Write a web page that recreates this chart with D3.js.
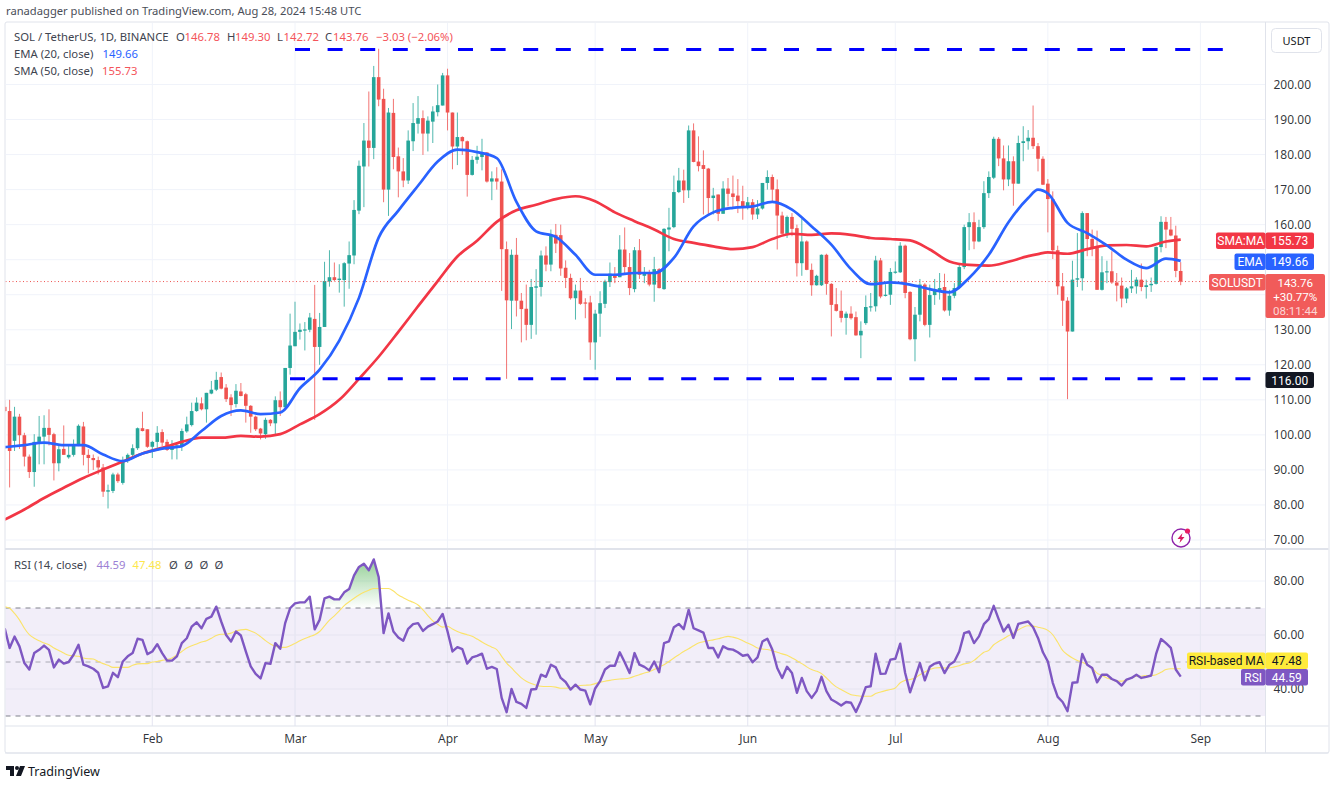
<!DOCTYPE html>
<html>
<head>
<meta charset="utf-8">
<script src="https://cdn.jsdelivr.net/npm/d3@7"></script>
<style>
html,body{margin:0;padding:0;background:#fff;overflow:hidden}
svg{display:block}
text{font-family:"Noto Sans",Roboto,sans-serif}
</style>
</head>
<body>
<svg id="c" width="1336" height="785"></svg>
<script>
// ---- data -----------------------------------------------------------------
const firstDay = "2024-01-02";
const opens = [
108,106.8,98.3,105.2,99.9,93.8,89.4,98,99.5,102,
100.2,91.9,96,93.6,94.3,97.3,102.4,94.3,93.4,92.8,
90.7,83.8,84,88.7,86.3,92.5,94.3,96.2,101.9,101.6,
96.6,98,100.8,98,95.7,96.5,96.8,101,102.8,106.8,
109,107.3,111.8,112.9,116.5,113.5,110.7,108.8,112.4,111.6,
108.3,105.2,101.8,100.2,104.3,103.3,109.9,107.9,119.1,125.3,
129.4,130,130,133.1,125.1,130.8,143.8,145,144.2,144.2,
148.9,151.2,164,176.6,184,181.9,202.1,195.9,170,191.9,
179.5,175.2,172.6,183.8,188.8,190.4,186,189.4,192.1,194,
202.6,192,182.3,185,183.8,174.2,178.5,179.3,180.6,172.3,
173.2,172.3,153,138.3,151.4,138.3,136,131.4,142,142.2,
151.2,148.6,157.1,157,147.7,144.8,139,141.2,137.8,137.8,
126.4,134.6,137.4,143.6,145.7,145,152.9,147.9,141.6,152.7,
145.4,146,142.9,147.3,141.6,158.6,159.3,169.3,172.6,169.8,
186.9,178,177,176,167.6,168.6,163.1,170.3,168.9,168.3,
166.7,165.2,166.4,162.9,164.6,171.9,173.6,170.1,162.6,157.4,
162.2,159,149,155.2,147.1,142.7,142.7,151.4,143.1,137.3,
135.4,133.4,134.6,133.6,128.4,131.9,136.5,136.7,149.8,139.8,
140,146.3,146.4,154,140.8,127.3,134.3,142.9,131.4,139.9,
141.2,142.2,135.5,139.7,141.9,147.9,159.3,160.7,155.2,159.3,
169,173.4,184.5,178.9,172.9,178.1,171.7,183.3,183.8,184.8,
182.4,178.8,171.7,167.3,152.7,142.4,138.3,129.5,144.3,144.7,
163.3,155.9,153.6,141.4,146.4,146.7,143.5,142.6,138.9,141.8,
142.4,144.3,142.2,142.7,143.1,153.6,160.8,158.6,156.9,146.78];
const highs = [
110,110,108,106,100.6,94.4,100.2,105.4,105.6,107.3,
100.6,97.3,102.7,97,98.7,103,103.7,95.9,94.4,93.8,
91.7,85.8,89.2,89.2,93.8,94.7,97.3,102.1,106.6,101.6,
98.3,102.5,101.6,98.7,98.5,97.3,101.8,105.2,109.2,110.7,
110.7,112,115.4,118,117.8,114.5,111.6,114.5,114.8,112,
108.5,105.5,102,104.9,104.5,111,112.4,119.1,134.6,138,
131.8,132.2,134.8,142.8,134.8,149.4,152.7,149.2,148.7,149.3,
155.2,167,178.3,189,198,205.3,210.2,198.8,193.3,195.9,
182,179,186.9,194.7,196.7,192.6,190.9,193.8,200,203.3,
204.5,192,192,185.2,184,179.6,182.5,184.5,180.7,175.2,
176.4,175.8,155.2,152.9,156.2,140.5,142.9,144.5,147.3,152.6,
153.8,158.6,160.2,160,149.8,146,142.9,144.8,139,139.7,
135.7,141,144.3,149.2,147.9,157,159.2,151.9,153.6,155.9,
147.9,147.1,150.8,147.6,159,164.8,174,176.2,175.7,188.3,
188.9,185.2,181.2,176.2,170.5,168.6,172.4,173.3,174,173,
171.1,167.9,167.3,167,171.9,175.5,174.3,172.9,163.7,162.6,
163.3,160,161.6,155.5,148.9,145.7,151.5,151.7,143.3,141.9,
141.2,135.2,136.7,135.2,132.4,139.8,140.5,151.1,150.5,143,
147.6,149.5,155,154.3,141,136.5,144.5,143.3,142.9,144.5,
146.2,146,141.4,143.3,148.6,160,163.3,163.5,161.4,172.4,
175.2,185.1,185,182.6,182.6,179.5,185.4,188.1,187,194,
183.3,179.5,173,169.5,154,146.2,139.3,149.7,157.6,163.8,
163.3,158.6,158.3,151,149.7,152.4,146.2,144.9,142.2,147.1,
145,148.9,144.3,144.9,153.8,162.4,162.2,162.2,159.7,149.3];
const lows = [
106.5,85,95.4,96,91,87.7,85.2,91.6,91.6,97,
87,89.6,94.3,93.2,93.8,96.8,91.3,89,90,88.7,
82.3,79,83.4,86.3,85.8,92,93.5,95.7,101,96.3,
93.4,96.3,96.8,95.4,93,93,95.4,100.6,102.4,106.6,
107,103.5,111.6,112.5,113,109.4,105.4,107.8,111,103.5,
100.6,101.1,98.7,98.9,102.5,100.2,105.4,107.6,117.2,125.3,
127.2,124.1,129.3,104.3,120,130.8,142.3,143.9,140.6,136.6,
141.7,148.7,163,165,176.6,178.7,193.8,166.4,162.5,175.8,
167.8,170.7,171.6,181,186,179.9,180.9,183.3,190.9,194,
186.9,175.8,177,179.9,168,174,177.4,175.5,172,167,
170,141.1,116,130.2,133.8,126.4,127,127.4,128.6,139.5,
146.7,146.7,151.9,145.4,141.9,138.6,132.9,137.1,133.3,121.4,
118.6,128,136.2,142.2,143.3,145,146.2,139.9,140.7,144.5,
143.3,142.4,138,141.8,141.4,152.4,159,169,166.2,167.6,
177.8,175.2,162.9,162.6,162.9,161,163.1,165.2,164.9,163.3,
161.4,164.3,161.4,161.6,164.3,170,166.2,152.9,157.1,156.2,
156.7,145.2,145.4,147,139.7,142.6,142.5,140,128.1,135.2,
132.1,128.6,132.9,128.3,121.9,131.4,135.2,135.2,139,139.5,
137.1,146,146.2,139,127,121,132.4,131,127.8,137.1,
138.6,135.2,134,139,141.6,147.3,152.7,153,155,158.8,
167.6,173,176.7,169.8,171,165.4,171.7,178.1,181.4,181.6,
175.2,171.3,157.8,150.2,140,131.1,110.2,129.5,142.2,141.2,
151,151,141.4,141.2,143.3,143.1,138.1,136.4,137.6,140.5,
140.3,141,138.9,140.8,142.9,152.1,153.3,156.7,145,142.72];
const closes = [
106.8,95.4,105.2,99.9,93.8,89.4,98,99.5,102,100,
91.9,95.9,94.3,94.3,97.3,102.6,94.3,93.4,92.8,90.7,
83.8,84.2,88.7,86.8,92.8,94.3,96.2,101.9,101.1,96.6,
98,100.6,97.8,95.7,96.8,97,101.1,103,106.8,109.2,
107.3,112,112.9,115.7,113.2,110.2,108.5,112.6,111.1,108.3,
105.2,101.6,100.4,104.3,103.3,109.9,107.9,119.1,125.5,129.4,
130,130.1,133.5,125.1,130.8,143.9,145,144.2,144.6,149,
151.3,164.2,176.8,184,181.9,202.1,195.7,170,192,179.3,
175.2,172.6,184,189,190.4,186,189.7,192.3,194.1,202.6,
192,182.3,185,183.8,174.2,178.5,179.4,180.4,172.3,173.2,
172.3,153,138.4,151.4,138.3,135.9,131.4,142.2,142.4,151.2,
148.6,157.1,154.6,147.5,144.8,139,141.2,137.4,137.6,126.4,
134.6,137.6,143.8,146,144.8,152.9,147.9,141.9,152.7,145.7,
146.2,142.9,147.3,141.9,158.8,159.2,169.3,172.6,169.8,186.9,
177.9,176.7,175.9,167.6,168.3,163.1,170.3,168.8,167.9,166.7,
165.2,166.4,162.9,164.6,171.9,173.6,170,162.6,157.4,162.2,
158.8,149,155.2,147.1,142.7,145.4,151.4,143.1,137.1,135.4,
133.4,134.6,133.3,128.4,129.7,136.5,136.7,149.8,139.5,140,
146.5,146.6,154,140.5,127.3,134.3,142.9,131.4,139.9,141.2,
141.9,135.5,139.7,141.9,147.9,159.3,160.7,155.2,159.3,169,
173.6,184.5,178.9,172.9,178.1,171.7,183.3,183.8,184.8,182.4,
178.8,171.4,167.3,152.7,142.4,138.3,129.5,144.3,144.7,163.3,
155.9,153.6,141.4,146.4,146.7,143.5,142.6,138.9,141.8,142.4,
144.3,142.2,142.7,143.1,153.6,160.8,158.6,156.9,146.8,143.76];
// moving averages, read at every 4th session, plus the turning point and the last session
const maDays = [0,4,8,12,16,20,24,28,32,36,40,44,48,52,56,60,64,68,72,76,80,84,88,92,96,100,104,108,112,116,120,124,128,132,136,140,144,148,152,156,160,164,168,172,176,180,184,188,192,196,200,204,208,210,212,216,220,224,228,232,236,239];
const ema20 = [96.5,97.1,97.8,97.1,97.1,94.4,92.5,94.7,96.1,96.8,101.1,105.4,107,105.9,106.4,113.3,118.6,126.9,139.1,156.3,164,171.1,178,181.4,180.7,179,166.5,158.1,156.5,151.4,145.7,145.7,146.2,146.2,150.5,159.5,163.5,164.8,165.2,166.5,164.3,159.5,154.3,147.3,143,143.5,142.9,141.6,140.7,144.8,151.4,160.7,167.6,170,168.9,160.5,157.6,154.1,150,147.6,150.3,149.66];
const sma50 = [75.8,78.7,82,84.9,87.7,90.1,92.4,94.7,96.3,98,99.2,99.2,99.7,99.5,100.2,103,105.9,110,116,122.3,129.4,136.7,143.9,150.9,155.4,160.8,164.1,165.7,167.3,168.1,166.7,163.5,161,158.6,155.9,154.8,153.8,153,153.6,155.9,157.4,157.1,157.5,157.1,156.2,155.9,155.5,152.9,149.5,148.5,148.3,149.4,151,151.6,152.1,151.7,153,154.1,154.2,153.8,155.2,155.73];
const rsiValues = [
62.5,55.2,59.4,55.8,49.6,47.2,53.3,54.5,56.1,54.5,
48,50.9,49.4,50,52.7,56.4,49,48.4,47.5,46,
40.4,41,46,44.4,50.2,52.1,53.3,58.6,58.2,52.9,
53.9,56.6,53.3,50.5,50.5,52.1,57,58.8,63.1,64.7,
62.5,66,66.8,70.5,65,60,57.6,61.3,59.8,53.9,
48.4,45.6,43.9,49.6,49.3,57,54.9,64.4,69.9,71.7,
72.1,72.1,74.2,62.1,65.6,73.6,74.2,73.2,73.2,75.8,
77,82.1,85.2,86.4,84,88,81.5,60.7,68,61.3,
59.1,57.9,62.3,64,64.4,61.5,63.1,64,65,67.8,
61.3,53.9,55.5,54.8,49.4,51.7,52.3,53.1,47.5,48.2,
47.4,36.7,31.4,40,35.2,34.5,33,39.8,40,45.3,
44.5,49,48,44.1,42.6,39.8,41.6,39.8,39.4,34.3,
40.2,42.9,47.2,48.6,48.6,53.6,49.9,45.9,53.3,49,
48.2,46.9,50.2,46.2,57,57.6,62.9,64.1,62.2,69.3,
62.5,61.7,60.9,55.2,55.2,51.7,55.8,54.8,54.6,53.6,
52.3,52.7,49.9,51.7,57.6,58.6,54.6,47.8,44.1,48.2,
45.9,38.6,44.1,39.2,36.7,39.2,44.5,39.2,36.1,35.1,
33.9,35.2,34.9,31.5,35.5,40.7,41,53.1,45.6,45.7,
50.9,51.2,56.8,45.9,38.8,44.1,49.6,43.2,48.2,49.4,
49.9,45.9,49,50.2,53.9,60.7,61.3,57,59.5,64,
65.9,70.8,65.9,61.3,63.8,58.9,64.1,64.6,65,62.9,
58.9,53.6,50.2,42.3,37.1,35.2,31.8,42.3,42.5,53,
49,47.8,42.5,45.3,45.3,43.7,42.9,41.3,43.5,44.1,
45.3,44.1,44.5,45,53,58.5,57,55.2,47.2,44.59];
const rsiMa = [
70.5,69.9,68,65.6,62.5,60.1,58.8,57.9,57,56.4,
55.2,54.3,53.3,52.5,52.3,52.1,51.5,51.2,51.1,50.2,
49.4,48.8,48,48,48,48,48.8,49.3,49.4,49.4,
50,50.2,50.6,50.9,51.5,52.7,53.9,55.2,56,56.7,
57.4,57.9,58.8,59.8,60.3,60.3,60.7,61.5,61.9,62.1,
61.5,60.7,59.4,57.9,56.7,55.8,55.4,55.4,56,56.9,
57.9,58.7,59.4,60.1,61.3,63.4,65.5,67.1,68.9,70.9,
72.3,73.6,74.8,75.8,76.6,77.2,77.2,77.2,77.2,76.3,
74.8,73.8,72.9,72.1,71.1,69.3,67.2,65.2,64,62.9,
63.2,62.2,61.3,60.6,60.1,59.5,58.5,57.4,56.4,55.5,
54.6,52.1,49.6,47.8,45.9,44.1,42.9,42,41.4,41,
40.9,40.9,40.7,40.3,40.3,40.4,40.9,41.3,41.4,41.5,
42,42.5,42.9,43.2,43.5,43.7,43.8,44.1,44.7,45.3,
45.9,46.4,47.2,48.2,49,50.2,51.5,52.7,53.9,54.9,
56,57,57.5,57.9,58.2,58.6,59.1,59.5,59.2,58.7,
57.9,57,56.2,55.2,54.8,54.6,54.2,53.6,53,52.5,
51.5,50.5,49.4,48.2,47.2,46.6,45.7,44.1,42.3,40.8,
39.8,38.8,37.9,37.6,37.3,37.3,37.3,38.3,38.9,39.4,
39.8,40.4,42.3,43.2,43.5,44.1,45.3,46.3,47.2,47.8,
47.9,47.8,47.8,48.2,48.6,49.3,49.6,50.6,52.1,53.6,
54.3,56.4,57.6,58.6,59.7,60.7,61.9,62.9,63.4,63.3,
62.9,62.5,61.7,60.1,57.3,54.3,52.7,51.5,50.6,49.9,
49,47.8,45.9,45,44.1,43.5,42.9,42.9,43.5,44.1,
44.7,44.7,45,45,45.3,46.2,47.2,47.5,47.5,47.48];
const priceTicks = [70,80,90,100,110,120,130,140,150,160,170,180,190,200];
const priceLabels = [70,80,90,100,110,120,130,160,170,180,190,200]; // 140 and 150 sit behind the price tags
const rsiTicks = [40,60,80];
const rsiBands = [70,50,30];
const monthDays = ["2024-02-01","2024-03-01","2024-04-01","2024-05-01","2024-06-01","2024-07-01","2024-08-01","2024-09-01"];
const monthNames = ["Feb","Mar","Apr","May","Jun","Jul","Aug","Sep"];
const supportResistance = [116, 210];

// ---- layout ---------------------------------------------------------------
const L=5.5, R=1265.5, T=23, P=549, B=726, F=753, OUT=1328.5;
const UP="#26a69a", DOWN="#ef5350", EMA="#2962ff", SMA="#f23645", PUR="#7e57c2", YEL="#ffeb3b";
const GRID="#f0f3fa", BORDER="#e0e3eb", TXT="#131722";
const svg=d3.select("#c");
const parse=d3.utcParse("%Y-%m-%d");
const day0=parse(firstDay);
const dates=closes.map((_,i)=>d3.utcDay.offset(day0,i));
const x=d3.scaleUtc().domain([dates[0],dates[dates.length-1]]).range([4.7,1180.7]);
const y=d3.scaleLinear().domain([70,200]).range([540,84.5]);
const ry=d3.scaleLinear().domain([30,80]).range([716,581]);

const defs=svg.append("defs");
defs.append("clipPath").attr("id","pc").append("rect").attr("x",L).attr("y",T).attr("width",R-L).attr("height",P-T);
defs.append("clipPath").attr("id","rc").append("rect").attr("x",L).attr("y",P+1).attr("width",R-L).attr("height",B-P-1);
defs.append("clipPath").attr("id","ob").append("rect").attr("x",L).attr("y",P).attr("width",R-L).attr("height",ry(70)-P);
const grad=defs.append("linearGradient").attr("id","gr").attr("gradientUnits","userSpaceOnUse").attr("x1",0).attr("x2",0).attr("y1",ry(88)).attr("y2",ry(70));
grad.append("stop").attr("offset",0).attr("stop-color","#4caf50").attr("stop-opacity",.6);
grad.append("stop").attr("offset",1).attr("stop-color","#4caf50").attr("stop-opacity",0);

// frame
svg.append("rect").attr("x",L-.5).attr("y",T-1).attr("width",OUT-L+1).attr("height",F-T+1).attr("fill","#fff").attr("stroke",BORDER).attr("stroke-width",1).attr("rx",2);

// grid
const months=monthDays.map(parse);
const grid=svg.append("g");
grid.selectAll("line.v").data(months).join("line").attr("class","v")
 .attr("x1",d=>x(d)).attr("x2",d=>x(d)).attr("y1",T).attr("y2",B).attr("stroke",GRID);
grid.selectAll("line.h").data(priceTicks).join("line").attr("class","h")
 .attr("x1",L).attr("x2",R).attr("y1",d=>y(d)).attr("y2",d=>y(d)).attr("stroke",GRID);

// candles
const idx=d3.range(closes.length);
const cg=svg.append("g").attr("clip-path","url(#pc)");
cg.selectAll("line.w").data(idx).join("line").attr("class","w")
 .attr("x1",i=>x(dates[i])).attr("x2",i=>x(dates[i])).attr("y1",i=>y(highs[i])).attr("y2",i=>y(lows[i]))
 .attr("stroke",i=>closes[i]>=opens[i]?UP:DOWN).attr("stroke-width",1).attr("stroke-opacity",.8);
cg.selectAll("rect.b").data(idx).join("rect").attr("class","b")
 .attr("x",i=>x(dates[i])-1.8).attr("width",3.6)
 .attr("y",i=>y(Math.max(opens[i],closes[i])))
 .attr("height",i=>Math.max(1.2,Math.abs(y(opens[i])-y(closes[i]))))
 .attr("fill",i=>closes[i]>=opens[i]?UP:DOWN);

// last close dotted
cg.append("line").attr("x1",L).attr("x2",R).attr("y1",y(closes[239])).attr("y2",y(closes[239]))
 .attr("stroke",DOWN).attr("stroke-opacity",1).attr("stroke-dasharray","1 2.5");

// MAs
const maLine=d3.line().x(d=>x(dates[d[0]])).y(d=>y(d[1])).curve(d3.curveMonotoneX);
cg.append("path").attr("d",maLine(maDays.map((d,i)=>[d,sma50[i]]))).attr("fill","none").attr("stroke",SMA).attr("stroke-width",2.7).attr("stroke-linejoin","round");
cg.append("path").attr("d",maLine(maDays.map((d,i)=>[d,ema20[i]]))).attr("fill","none").attr("stroke",EMA).attr("stroke-width",2.7).attr("stroke-linejoin","round");

// horizontal levels
svg.append("line").attr("x1",295).attr("x2",1228).attr("y1",y(supportResistance[1])).attr("y2",y(supportResistance[1]))
 .attr("stroke","#0000ff").attr("stroke-width",3).attr("stroke-dasharray","15 17.6");
svg.append("line").attr("x1",290).attr("x2",1255).attr("y1",y(supportResistance[0])).attr("y2",y(supportResistance[0]))
 .attr("stroke","#0000ff").attr("stroke-width",3).attr("stroke-dasharray","15 17.6");

// RSI pane
const rg=svg.append("g").attr("clip-path","url(#rc)");
rg.append("rect").attr("x",L).attr("width",R-L).attr("y",ry(70)).attr("height",ry(30)-ry(70)).attr("fill",PUR).attr("fill-opacity",.1);
rg.selectAll("line.g").data(rsiTicks).join("line").attr("class","g").attr("x1",L).attr("x2",R).attr("y1",d=>ry(d)).attr("y2",d=>ry(d)).attr("stroke",d=>d===80?GRID:"#e6e4f1");
rg.selectAll("line.v").data(months).join("line").attr("class","v").attr("x1",d=>x(d)).attr("x2",d=>x(d)).attr("y1",P).attr("y2",B).attr("stroke","#e8e8f2");
rg.selectAll("line.d").data(rsiBands).join("line").attr("class","d").attr("x1",L).attr("x2",R).attr("y1",d=>ry(d)).attr("y2",d=>ry(d))
 .attr("stroke","#787b86").attr("stroke-opacity",d=>d===50?.6:.95).attr("stroke-dasharray","5 5");
rg.append("path").attr("clip-path","url(#ob)")
 .attr("d",d3.area().x(i=>x(dates[i])).y0(ry(70)).y1(i=>ry(rsiValues[i]))(idx)).attr("fill","url(#gr)");
rg.append("path").attr("d",d3.line().x(i=>x(dates[i])).y(i=>ry(rsiMa[i])).curve(d3.curveMonotoneX)(idx)).attr("fill","none").attr("stroke","#fbe36a").attr("stroke-width",1.1);
rg.append("path").attr("d",d3.line().x(i=>x(dates[i])).y(i=>ry(rsiValues[i]))(idx)).attr("fill","none").attr("stroke",PUR).attr("stroke-width",2.4).attr("stroke-linejoin","round");

// axes structure
svg.append("line").attr("x1",R).attr("x2",R).attr("y1",T-1).attr("y2",F).attr("stroke",BORDER);
svg.append("line").attr("x1",L-.5).attr("x2",OUT).attr("y1",P).attr("y2",P).attr("stroke",BORDER).attr("stroke-width",2);
svg.append("line").attr("x1",L-.5).attr("x2",OUT).attr("y1",B).attr("y2",B).attr("stroke",BORDER).attr("stroke-width",1.2);
svg.append("line").attr("x1",L-.5).attr("x2",OUT).attr("y1",F).attr("y2",F).attr("stroke",BORDER).attr("stroke-width",1.2);

// axes
function styleAxis(g){g.select(".domain").remove();g.selectAll(".tick line").remove();
 g.selectAll("text").attr("fill",TXT).attr("fill-opacity",.88).style("font-family",'"Noto Sans",Roboto,sans-serif').style("font-size","12px");}
svg.append("g").attr("transform",`translate(${R},0)`).call(d3.axisRight(y).tickValues(priceLabels).tickFormat(d3.format(".2f")).tickSize(0).tickPadding(8)).call(styleAxis);
svg.append("g").attr("transform",`translate(${R},0)`).call(d3.axisRight(ry).tickValues(rsiTicks).tickFormat(d3.format(".2f")).tickSize(0).tickPadding(8)).call(styleAxis);
svg.append("g").attr("transform",`translate(0,${B})`).call(d3.axisBottom(x).tickValues(months).tickFormat((d,i)=>monthNames[i]).tickSize(0).tickPadding(8)).call(styleAxis);

// tags
function tag(x0,y0,w,h,fill,lines,tc,fs){
 svg.append("rect").attr("x",x0).attr("y",y0).attr("width",w).attr("height",h).attr("rx",2).attr("fill",fill);
 lines.forEach(l=>svg.append("text").attr("x",x0+w/2).attr("y",l.y).attr("text-anchor","middle").attr("fill",tc).attr("fill-opacity",l.o||1).style("font-family","Roboto,sans-serif").attr("font-size",fs||12).text(l.t));
}
tag(1216,232.5,49.5,16.5,SMA,[{t:"SMA:MA",y:245}],"#fff");
tag(1265.5,232.5,48.5,16.5,SMA,[{t:"155.73",y:245}],"#fff");
tag(1234.5,253.5,31,16.5,EMA,[{t:"EMA",y:266}],"#fff");
tag(1265.5,253.5,48.5,16.5,EMA,[{t:"149.66",y:266}],"#fff");
tag(1209,274,56.5,16.5,"#f15b5a",[{t:"SOLUSDT",y:286.5}],"#fff");
tag(1265.5,274,59.5,44,"#f15b5a",[{t:"143.76",y:286.5},{t:"+30.77%",y:300.5},{t:"08:11:44",y:314.5,o:.75}],"#fff",11.6);
tag(1265.5,372,48.5,16,"#131722",[{t:"116.00",y:384.5}],"#fff");
tag(1187,652.5,78.5,16.5,YEL,[{t:"RSI-based MA",y:665}],"#131722");
tag(1265.5,652.5,42.5,16.5,YEL,[{t:"47.48",y:665}],"#131722");
tag(1241,669,24.5,16.5,PUR,[{t:"RSI",y:681.5}],"#fff");
tag(1265.5,669,42.5,16.5,PUR,[{t:"44.59",y:681.5}],"#fff");
svg.append("rect").attr("x",1271.5).attr("y",28.5).attr("width",50).attr("height",24).attr("rx",4).attr("fill","#fff").attr("stroke",BORDER);
svg.append("text").attr("x",1296.5).attr("y",44.5).attr("text-anchor","middle").attr("font-size",11).attr("fill",TXT).text("USDT");

// header / legends
function t(xp,yp,s,fill,fs){svg.append("text").attr("x",xp).attr("y",yp).attr("fill",fill).attr("font-size",fs||11.3).text(s);}
t(6,14.5,"ranadagger published on TradingView.com, Aug 28, 2024 15:48 UTC","#4a4e58",11.2);
const LG="#40444f", RD="#f4545a";
t(14,41,"SOL / TetherUS, 1D, BINANCE",LG);
t(176,41,"O",LG);t(184.5,41,"146.78",RD);
t(227,41,"H",LG);t(235,41,"149.30",RD);
t(277,41,"L",LG);t(283.5,41,"142.72",RD);
t(325,41,"C",LG);t(333,41,"143.76",RD);
t(376,41,"−3.03 (−2.06%)",RD);
t(14,58,"EMA (20, close)",LG);t(102.5,58,"149.66","#2962ff");
t(14,75,"SMA (50, close)",LG);t(102,75,"155.73",RD);
t(14,569,"RSI (14, close)",LG);t(96.5,569,"44.59","#9c80d4");t(132.5,569,"47.48","#fde74a");
["Ø","Ø","Ø","Ø"].forEach((s,i)=>t(169+i*15.2,569,s,LG));

// flash icon
const fi=svg.append("g").attr("transform","translate(1181,538)");
fi.append("circle").attr("r",9).attr("fill","#fff").attr("stroke","#8e24aa").attr("stroke-width",1.4);
fi.append("path").attr("d","M1.5,-5 L-3.5,1 L-0.5,1 L-1.5,5 L3.5,-1 L0.5,-1 Z").attr("fill","#d81b60");
fi.append("circle").attr("cx",6.5).attr("cy",-7).attr("r",2.6).attr("fill","#e91e63");

// logo
const lg=svg.append("g").attr("transform","translate(6,766)").attr("fill","#131722");
lg.append("path").attr("d","M0,0 H8 V10 H4 V4 H0 Z");
lg.append("circle").attr("cx",11).attr("cy",2).attr("r",2);
lg.append("path").attr("d","M14,0 H19 L15,10 H10 Z");
t(28,775.5,"TradingView","#131722",12.5);
</script>
</body>
</html>
